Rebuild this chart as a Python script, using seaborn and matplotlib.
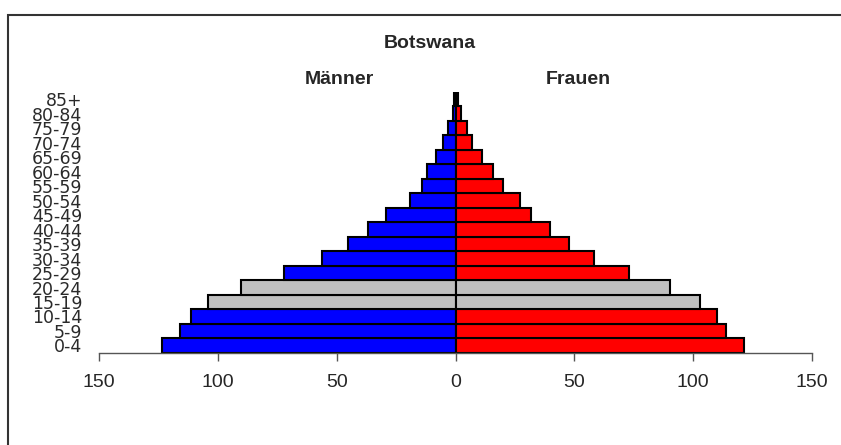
import matplotlib
matplotlib.use("Agg")
import matplotlib.pyplot as plt
from matplotlib.patches import Rectangle
import seaborn as sns
import pandas as pd

# ---- data ----
ages = ['0-4', '5-9', '10-14', '15-19', '20-24', '25-29', '30-34', '35-39', '40-44',
        '45-49', '50-54', '55-59', '60-64', '65-69', '70-74', '75-79', '80-84', '85+']
male = [123.3, 116.1, 111.1, 104.2, 90.1, 72.3, 56.0, 45.1, 36.9,
        29.1, 19.2, 14.2, 12.2, 8.3, 5.2, 3.2, 1.0, 0.5]
female = [121.2, 113.9, 110.1, 103.0, 90.2, 73.2, 58.2, 47.9, 39.9,
          31.9, 27.2, 19.9, 15.9, 11.0, 7.0, 5.0, 2.2, 1.0]
highlight = ['15-19', '20-24']
x_ticks = [-150, -100, -50, 0, 50, 100, 150]
x_tick_labels = ['150', '100', '50', '0', '50', '100', '150']
title = 'Botswana'
left_label = 'Männer'
right_label = 'Frauen'

sns.set_style('white')
plt.rcParams['font.family'] = ['Liberation Sans', 'DejaVu Sans']

W, H = 841, 445
fig = plt.figure(figsize=(W / 100, H / 100), dpi=100)
ax = fig.add_axes([99 / W, (H - 352.7) / H, 713 / W, 260.7 / H])

order = ages[::-1]
df_m = pd.DataFrame({'age': ages, 'value': [-v for v in male]})
df_f = pd.DataFrame({'age': ages, 'value': female})
pal_m = {a: ('#C0C0C0' if a in highlight else '#0000FF') for a in ages}
pal_f = {a: ('#C0C0C0' if a in highlight else '#FF0000') for a in ages}

sns.barplot(data=df_m, x='value', y='age', order=order, hue='age', palette=pal_m,
            width=1.0, edgecolor='black', linewidth=1.5, legend=False, ax=ax,
            orient='h', saturation=1)
sns.barplot(data=df_f, x='value', y='age', order=order, hue='age', palette=pal_f,
            width=1.0, edgecolor='black', linewidth=1.5, legend=False, ax=ax,
            orient='h', saturation=1)

ax.set_xlim(-150, 150)
ax.set_ylim(len(ages) - 0.5, -0.5)
ax.set_xticks(x_ticks)
ax.set_xticklabels(x_tick_labels, fontsize=14, family='Liberation Sans')
ax.set_xlabel('')
ax.set_ylabel('')
for lab in ax.get_yticklabels():
    lab.set_family('DejaVu Sans')
    lab.set_fontsize(12.5)
    lab.set_color('#2a2a2a')
ax.tick_params(axis='y', length=0, pad=12)
ax.tick_params(axis='x', direction='out', length=6, width=1, color='#555555',
               pad=9, bottom=True)
for s in ['left', 'top', 'right']:
    ax.spines[s].set_visible(False)
ax.spines['bottom'].set_color('#555555')
ax.spines['bottom'].set_linewidth(1)
ax.set_facecolor('none')

fig.text(430 / W, 1 - 43.5 / H, title, ha='center', va='center',
         fontsize=14, fontweight='bold', family='Liberation Sans')
fig.text(339.7 / W, 1 - 80 / H, left_label, ha='center', va='center',
         fontsize=14, fontweight='bold', family='Liberation Sans')
fig.text(578 / W, 1 - 80 / H, right_label, ha='center', va='center',
         fontsize=14, fontweight='bold', family='Liberation Sans')

fig.patches.append(Rectangle((7.5 / W, -0.2), 2, 1.2 - 14.5 / H,
                             transform=fig.transFigure, fill=False,
                             edgecolor='#333333', linewidth=1.5))

fig.savefig('out.png', dpi=100)
